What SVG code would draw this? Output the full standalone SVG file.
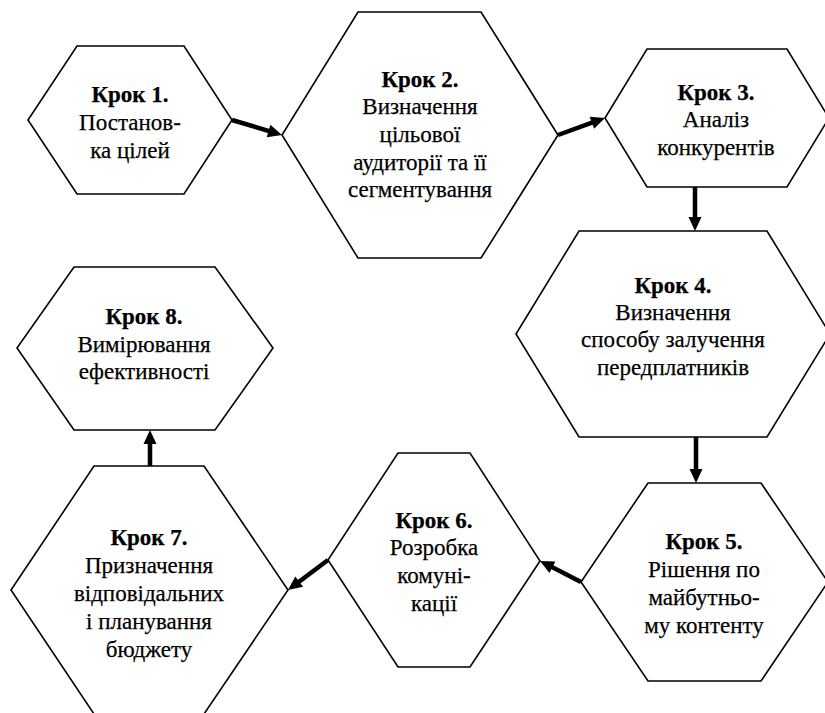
<svg xmlns="http://www.w3.org/2000/svg" width="825" height="713" viewBox="0 0 825 713">
<style>
.hex{fill:#fff;stroke:#000;stroke-width:1.6;stroke-linejoin:miter}
text{font-family:'Liberation Serif','Times New Roman',serif;font-size:23px;fill:#000;stroke:#000;stroke-width:0.25;text-anchor:middle}
.b{font-weight:bold}
.arr{stroke:#000;stroke-width:4.5;fill:none;marker-end:url(#ah)}
</style>
<defs>
<marker id="ah" markerUnits="userSpaceOnUse" markerWidth="20" markerHeight="20" refX="6" refY="0" orient="auto" viewBox="0 -10 20 20" overflow="visible">
<path d="M0,-6.5 L14,0 L0,6.5 z" fill="#000"/>
</marker>
</defs>
<rect width="825" height="713" fill="#fff"/>
<g id="step1">
<polygon class="hex" points="77,46 184,46 232,120 184,194 77,194 28,120"/>
<text x="130" y="102" class="b">Крок 1.</text>
<text x="130" y="130">Постанов-</text>
<text x="130" y="158">ка цілей</text>
</g>
<g id="step2">
<polygon class="hex" points="358,12 481,12 558,135 481,258 358,258 282,135"/>
<text x="420" y="87" class="b">Крок 2.</text>
<text x="420" y="114">Визначення</text>
<text x="420" y="142">цільової</text>
<text x="420" y="170">аудиторії та її</text>
<text x="420" y="197">сегментування</text>
</g>
<g id="step3">
<polygon class="hex" points="647,49 787,49 829,118 787,187 647,187 605,118"/>
<text x="716" y="100" class="b">Крок 3.</text>
<text x="716" y="127">Аналіз</text>
<text x="716" y="155">конкурентів</text>
</g>
<g id="step4">
<polygon class="hex" points="579,231 767,231 830,334 767,437 579,437 516,334"/>
<text x="673" y="293" class="b">Крок 4.</text>
<text x="673" y="320">Визначення</text>
<text x="673" y="347">способу залучення</text>
<text x="673" y="375">передплатників</text>
</g>
<g id="step5">
<polygon class="hex" points="648,483 761,483 828,582 761,681 648,681 581,582"/>
<text x="704" y="549" class="b">Крок 5.</text>
<text x="704" y="577">Рішення по</text>
<text x="704" y="605">майбутньо-</text>
<text x="704" y="633">му контенту</text>
</g>
<g id="step6">
<polygon class="hex" points="398,453 470,453 540,561 470,667 398,667 328,560"/>
<text x="434" y="528" class="b">Крок 6.</text>
<text x="434" y="555">Розробка</text>
<text x="434" y="583">комуні-</text>
<text x="434" y="611">кації</text>
</g>
<g id="step7">
<polygon class="hex" points="94,466 204,466 288,590 204,714 94,714 11,590"/>
<text x="149" y="545" class="b">Крок 7.</text>
<text x="149" y="573">Призначення</text>
<text x="149" y="601">відповідальних</text>
<text x="149" y="629">і планування</text>
<text x="149" y="657">бюджету</text>
</g>
<g id="step8">
<polygon class="hex" points="74,267 215,267 273,348 215,430 74,430 17,348"/>
<text x="144" y="324" class="b">Крок 8.</text>
<text x="144" y="352">Вимірювання</text>
<text x="144" y="379">ефективності</text>
</g>
<g id="connectors">
<line class="arr" x1="232" y1="120" x2="274.3" y2="132.7"/>
<line class="arr" x1="558" y1="135" x2="597.5" y2="120.7"/>
<line class="arr" x1="695" y1="187" x2="695" y2="223"/>
<line class="arr" x1="696" y1="437" x2="696" y2="475"/>
<line class="arr" x1="581" y1="582" x2="547.1" y2="564.6"/>
<line class="arr" x1="328" y1="560" x2="294.4" y2="585.2"/>
<line class="arr" x1="150" y1="466" x2="150" y2="438"/>
</g>
</svg>
